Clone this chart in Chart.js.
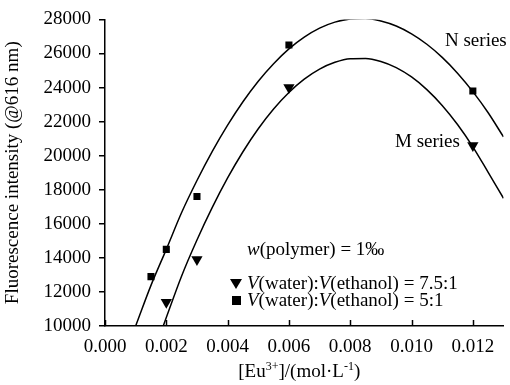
<!DOCTYPE html>
<html>
<head>
<meta charset="utf-8">
<script src="https://cdn.jsdelivr.net/npm/chart.js@4.4.1/dist/chart.umd.min.js"></script>
<style>
html,body{margin:0;padding:0;background:#fff}
#wrap{width:510px;height:385px;position:relative}
</style>
</head>
<body>
<div id="wrap"><canvas id="c"></canvas></div>
<script>
// measured points
const nConc=[0.0015,0.002,0.003,0.006,0.012];
const nInt=[12900,14500,17600,26500,23800];
const mConc=[0.002,0.003,0.006,0.012];
const mInt=[11400,13900,24000,20600];

// fitted curves
const nFitX=[0.001,0.0015,0.002,0.0025,0.003,0.0035,0.004,0.0045,0.005,0.0055,0.006,0.0065,0.007,0.0075,0.008,0.0085,0.009,0.0095,0.010,0.0105,0.011,0.0115,0.012,0.0125,0.013];
const nFitY=[10000,12385,14500,16660,18540,20250,21790,23165,24370,25400,26270,26960,27490,27840,28030,28060,27905,27610,27150,26540,25770,24845,23760,22520,21100];
const mFitX=[0.0019,0.0025,0.003,0.0035,0.004,0.0045,0.005,0.0055,0.006,0.0065,0.007,0.0075,0.008,0.0085,0.009,0.0095,0.010,0.0105,0.011,0.0115,0.012,0.0125,0.013];
const mFitY=[10000,12940,15050,16960,18690,20230,21580,22740,23710,24490,25080,25480,25690,25705,25530,25170,24620,23880,22950,21830,20520,19020,17500];

const xMin=0,xMax=0.013,xStep=0.002;
const yMin=10000,yMax=28000,yStep=2000;

const FONT='"Liberation Serif","Times New Roman",serif';
const pts=(xs,ys)=>xs.map((x,i)=>({x:x,y:ys[i]}));

function runs(ctx,x,y,parts,size,measureOnly){
  let cx=x;
  parts.forEach(p=>{
    const s=p.sup?Math.round(size*0.62):size;
    ctx.font=(p.it?'italic ':'')+s+'px '+FONT;
    if(!measureOnly)ctx.fillText(p.t,cx,y+(p.sup?-size*0.38:0));
    cx+=ctx.measureText(p.t).width;
  });
  return cx-x;
}

const extras={
  id:'extras',
  afterDraw(chart){
    const ctx=chart.ctx,a=chart.chartArea,xs=chart.scales.x;
    ctx.save();
    // inward x ticks
    ctx.strokeStyle='#000';ctx.lineWidth=1.5;
    xs.ticks.forEach(t=>{
      const px=Math.round(xs.getPixelForValue(t.value))+0.5;
      ctx.beginPath();ctx.moveTo(px,a.bottom);ctx.lineTo(px,a.bottom-6);ctx.stroke();
    });
    ctx.fillStyle='#000';ctx.textBaseline='alphabetic';ctx.textAlign='left';
    // x title with superscripts
    const xt=[{t:'[Eu'},{t:'3+',sup:true},{t:']/(mol·L'},{t:'-1',sup:true},{t:')'}];
    const w=runs(ctx,0,0,xt,19,true);
    runs(ctx,(a.left+a.right)/2-5-w/2,377,xt,19);
    // series labels
    ctx.font='19px '+FONT;
    ctx.fillText('N series',445,46);
    ctx.fillText('M series',395,147);
    // legend block
    runs(ctx,247,255,[{t:'w',it:true},{t:'(polymer) = 1‰'}],19);
    runs(ctx,247,289,[{t:'V',it:true},{t:'(water):'},{t:'V',it:true},{t:'(ethanol) = 7.5:1'}],19);
    runs(ctx,247,306,[{t:'V',it:true},{t:'(water):'},{t:'V',it:true},{t:'(ethanol) = 5:1'}],19);
    // legend markers
    ctx.beginPath();ctx.moveTo(230,279);ctx.lineTo(242,279);ctx.lineTo(236,289);ctx.closePath();ctx.fill();
    ctx.fillRect(232,296,9,9);
    ctx.restore();
  }
};

new Chart(document.getElementById('c'),{
  type:'scatter',
  data:{datasets:[
    {data:pts(nFitX,nFitY),showLine:true,borderColor:'#000',borderWidth:1.5,pointRadius:0,cubicInterpolationMode:'monotone',fill:false},
    {data:pts(mFitX,mFitY),showLine:true,borderColor:'#000',borderWidth:1.5,pointRadius:0,cubicInterpolationMode:'monotone',fill:false},
    {data:pts(nConc,nInt),pointStyle:'rect',pointRadius:5,backgroundColor:'#000',borderColor:'#000',borderWidth:0},
    {data:pts(mConc,mInt),pointStyle:'triangle',rotation:180,pointRadius:6.5,backgroundColor:'#000',borderColor:'#000',borderWidth:0}
  ]},
  options:{
    responsive:true,maintainAspectRatio:false,animation:false,
    layout:{padding:{top:19,right:3,left:0,bottom:0}},
    plugins:{legend:{display:false},tooltip:{enabled:false}},
    scales:{
      x:{type:'linear',min:xMin,max:xMax,
        afterFit(s){s.height=59;},
        ticks:{stepSize:xStep,includeBounds:false,padding:10,color:'#000',font:{family:FONT,size:19},callback:v=>Number(v).toFixed(3),maxRotation:0},
        grid:{display:true,drawOnChartArea:false,drawTicks:false,color:'#000'},
        border:{display:true,color:'#000',width:1.5}
      },
      y:{type:'linear',min:yMin,max:yMax,
        afterFit(s){s.width=105;},
        ticks:{stepSize:yStep,padding:8,color:'#000',font:{family:FONT,size:19},callback:v=>String(v)},
        grid:{display:true,drawOnChartArea:false,tickLength:6,color:'#000',lineWidth:1.5},
        border:{display:true,color:'#000',width:1.5},
        title:{display:true,text:'Fluorescence intensity (@616 nm)',color:'#000',font:{family:FONT,size:19},padding:{top:2,bottom:0}}
      }
    }
  },
  plugins:[extras]
});
</script>
</body>
</html>
